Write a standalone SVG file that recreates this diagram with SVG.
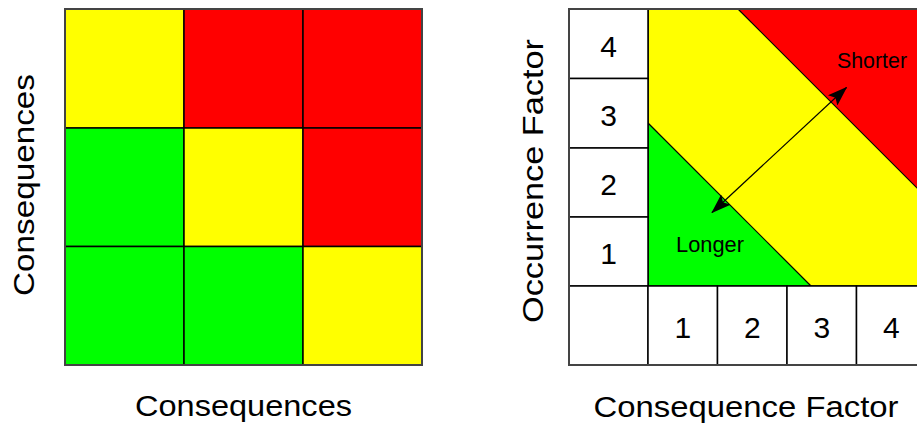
<svg xmlns="http://www.w3.org/2000/svg" width="917" height="425" viewBox="0 0 917 425">
  <style>
    .y { fill: #FFFF00; }
    .r { fill: #FF0000; }
    .g { fill: #00FF00; }
    .w { fill: #FFFFFF; }
    .cell { stroke: #000; stroke-width: 1.5; }
    .frame { fill: none; stroke: #444; stroke-width: 2; }
    .edge { stroke: #000; stroke-width: 1.2; fill: none; }
    .num { font-family: "Liberation Sans", Arial, sans-serif; font-size: 30px; fill: #000; text-anchor: middle; }
    .lbl { font-family: "Liberation Sans", Arial, sans-serif; font-size: 21.5px; fill: #000; }
    .axis { font-family: "Liberation Sans", Arial, sans-serif; font-size: 30px; fill: #000; text-anchor: middle; }
  </style>
  <defs>
    <marker id="ah" viewBox="0 0 20 14" refX="19" refY="7" markerWidth="20" markerHeight="14" markerUnits="userSpaceOnUse" orient="auto-start-reverse">
      <path d="M0,0 L20,7 L0,14 L4,7 z" fill="#000"/>
    </marker>
  </defs>
  <rect width="917" height="425" fill="#FFFFFF"/>

  <!-- Left matrix -->
  <g id="left-matrix">
    <rect class="cell y" x="65" y="9" width="119" height="119"/>
    <rect class="cell r" x="184" y="9" width="119" height="119"/>
    <rect class="cell r" x="303" y="9" width="119" height="119"/>
    <rect class="cell g" x="65" y="128" width="119" height="118.5"/>
    <rect class="cell y" x="184" y="128" width="119" height="118.5"/>
    <rect class="cell r" x="303" y="128" width="119" height="118.5"/>
    <rect class="cell g" x="65" y="246.5" width="119" height="118.5"/>
    <rect class="cell g" x="184" y="246.5" width="119" height="118.5"/>
    <rect class="cell y" x="303" y="246.5" width="119" height="118.5"/>
    <rect class="frame" x="65" y="9" width="357" height="356"/>
  </g>
  <g id="left-y-label">
    <text class="axis" x="0" y="0" transform="translate(34,185) rotate(-90)" textLength="222" lengthAdjust="spacingAndGlyphs">Consequences</text>
  </g>
  <g id="left-x-label">
    <text class="axis" x="243.5" y="415.5" textLength="217" lengthAdjust="spacingAndGlyphs">Consequences</text>
  </g>

  <!-- Right matrix -->
  <g id="risk-area">
    <rect class="y" x="648" y="9" width="280" height="277"/>
    <polygon class="r" points="738,9 930,9 930,201"/>
    <polygon class="g" points="648,123 811,286 648,286"/>
    <line class="edge" x1="738" y1="9" x2="930" y2="201"/>
    <line class="edge" x1="648" y1="123" x2="811" y2="286"/>
    <rect x="648" y="9" width="280" height="277" fill="none" stroke="#000" stroke-width="1.5"/>
  </g>

  <g id="occ-4"><rect class="cell w" x="569" y="9" width="79" height="69.5"/><text class="num" x="608.5" y="56.5">4</text></g>
  <g id="occ-3"><rect class="cell w" x="569" y="78.5" width="79" height="69.5"/><text class="num" x="608.5" y="126">3</text></g>
  <g id="occ-2"><rect class="cell w" x="569" y="148" width="79" height="69"/><text class="num" x="608.5" y="195">2</text></g>
  <g id="occ-1"><rect class="cell w" x="569" y="217" width="79" height="69"/><text class="num" x="608.5" y="264">1</text></g>
  <g id="corner"><rect class="cell w" x="569" y="286" width="79" height="79"/></g>
  <g id="con-1"><rect class="cell w" x="648" y="286" width="69.5" height="79"/><text class="num" x="682.75" y="337.5">1</text></g>
  <g id="con-2"><rect class="cell w" x="717.5" y="286" width="69.5" height="79"/><text class="num" x="752.25" y="337.5">2</text></g>
  <g id="con-3"><rect class="cell w" x="787" y="286" width="69.5" height="79"/><text class="num" x="821.75" y="337.5">3</text></g>
  <g id="con-4"><rect class="cell w" x="856.5" y="286" width="69.5" height="79"/><text class="num" x="891.25" y="337.5">4</text></g>
  <rect class="frame" x="569" y="9" width="360" height="356"/>

  <g id="label-shorter"><text class="lbl" x="837" y="68" textLength="70" lengthAdjust="spacingAndGlyphs">Shorter</text></g>
  <g id="label-longer"><text class="lbl" x="676" y="251.5" textLength="68" lengthAdjust="spacingAndGlyphs">Longer</text></g>

  <g id="connectors">
    <line x1="712" y1="212.5" x2="846.5" y2="87.5" stroke="#000" stroke-width="1.2" marker-start="url(#ah)" marker-end="url(#ah)"/>
  </g>

  <g id="right-y-label">
    <text class="axis" x="0" y="0" transform="translate(543,181) rotate(-90)" textLength="284" lengthAdjust="spacingAndGlyphs">Occurrence Factor</text>
  </g>
  <g id="right-x-label">
    <text class="axis" x="746" y="416.5" textLength="305" lengthAdjust="spacingAndGlyphs">Consequence Factor</text>
  </g>
</svg>
